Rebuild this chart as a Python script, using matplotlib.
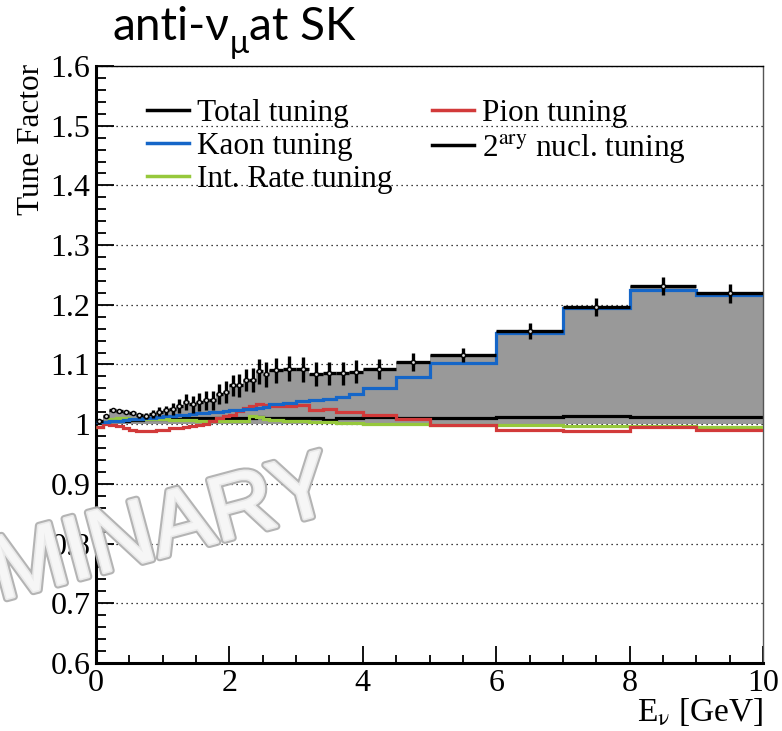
import matplotlib
matplotlib.use("Agg")
import matplotlib.pyplot as plt
import matplotlib.patheffects as pe
from matplotlib.lines import Line2D
from matplotlib.ticker import MultipleLocator
import numpy as np

plt.rcParams['font.family'] = ['Liberation Serif', 'DejaVu Serif']
plt.rcParams['mathtext.fontset'] = 'stix'

# bin edges [GeV]
edges = [0.0, 0.1, 0.2, 0.3, 0.4, 0.5, 0.6, 0.7, 0.8, 0.9, 1.0,
         1.1, 1.2, 1.3, 1.4, 1.5, 1.6, 1.7, 1.8, 1.9, 2.0,
         2.1, 2.2, 2.3, 2.4, 2.5, 2.6,
         2.8, 3.0, 3.2, 3.4, 3.6, 3.8, 4.0,
         4.5, 5.0, 6.0, 7.0, 8.0, 9.0, 10.0]

total = [1.006, 1.013, 1.023, 1.022, 1.021, 1.019, 1.015, 1.013, 1.017, 1.021,
         1.023, 1.025, 1.030, 1.037, 1.033, 1.037, 1.040, 1.040, 1.051, 1.054,
         1.065, 1.065, 1.074, 1.074, 1.089, 1.084,
         1.090, 1.093, 1.092, 1.084, 1.085, 1.085, 1.088,
         1.093, 1.104, 1.116, 1.156, 1.196, 1.231, 1.219]

total_err = [0.003, 0.003, 0.003, 0.003, 0.003, 0.003, 0.004, 0.005, 0.006, 0.007,
             0.008, 0.010, 0.012, 0.013, 0.014, 0.015, 0.016, 0.016, 0.017, 0.018,
             0.018, 0.019, 0.019, 0.020, 0.021, 0.021,
             0.021, 0.021, 0.021, 0.020, 0.020, 0.020, 0.019,
             0.017, 0.015, 0.012, 0.014, 0.015, 0.015, 0.016]

kaon = [1.003, 1.004, 1.005, 1.006, 1.007, 1.008, 1.009, 1.010, 1.011, 1.012,
        1.013, 1.014, 1.015, 1.016, 1.017, 1.018, 1.019, 1.020, 1.021, 1.022,
        1.023, 1.024, 1.025, 1.026, 1.027, 1.029,
        1.034, 1.036, 1.039, 1.040, 1.043, 1.046, 1.051,
        1.060, 1.079, 1.102, 1.153, 1.195, 1.224, 1.216]

pion = [0.995, 1.000, 0.999, 0.997, 0.994, 0.991, 0.989, 0.988, 0.989, 0.990,
        0.991, 0.993, 0.994, 0.996, 0.997, 0.999, 1.001, 1.006, 1.010, 1.013,
        1.016, 1.022, 1.027, 1.030, 1.033, 1.032,
        1.030, 1.030, 1.032, 1.023, 1.025, 1.021, 1.020,
        1.016, 1.008, 0.998, 0.990, 0.989, 0.996, 0.991]

int_rate = [0.996, 1.004, 1.008, 1.010, 1.010, 1.009, 1.009, 1.008, 1.008, 1.008,
            1.008, 1.007, 1.007, 1.007, 1.007, 1.006, 1.006, 1.006, 1.006, 1.006,
            1.006, 1.006, 1.006, 1.013, 1.012, 1.008,
            1.007, 1.006, 1.005, 1.004, 1.003, 1.002, 1.002,
            1.001, 1.000, 0.999, 0.998, 0.997, 0.997, 0.996]

secondary = [1.002, 1.004, 1.005, 1.006, 1.006, 1.007, 1.007, 1.008, 1.008, 1.008,
             1.009, 1.009, 1.009, 1.010, 1.010, 1.010, 1.010, 1.011, 1.011, 1.011,
             1.011, 1.011, 1.011, 1.011, 1.012, 1.011,
             1.011, 1.011, 1.010, 1.010, 1.007, 1.010, 1.011,
             1.012, 1.011, 1.011, 1.012, 1.013, 1.012, 1.012]

W, H = 782, 731
fig = plt.figure(figsize=(W / 100, H / 100), dpi=100)
ax = fig.add_axes([96 / W, 1 - 663 / H, (763 - 96) / W, (663 - 66) / H])

e = np.array(edges)
centers = 0.5 * (e[1:] + e[:-1])
halfw = 0.5 * (e[1:] - e[:-1])

ax.stairs(total, edges, baseline=1.0, fill=True, color='#999999', lw=0, zorder=1)
ax.stairs(secondary, edges, baseline=None, color='black', lw=2.3, zorder=2)
ax.stairs(int_rate, edges, baseline=None, color='#96c83c', lw=2.3, zorder=3)
ax.stairs(pion, edges, baseline=None, color='#d23a3a', lw=2.3, zorder=4)
ax.stairs(kaon, edges, baseline=None, color='#1566c8', lw=2.3, zorder=5)
ax.errorbar(centers, total, yerr=total_err, xerr=halfw, fmt='o', ms=3,
            mfc='#dddddd', mec='black', mew=1.0, ecolor='black', elinewidth=2.4,
            capsize=0, zorder=6)

ax.set_xlim(0, 10)
ax.set_ylim(0.6, 1.6)
ax.xaxis.set_major_locator(MultipleLocator(2))
ax.xaxis.set_minor_locator(MultipleLocator(0.5))
ax.yaxis.set_minor_locator(MultipleLocator(0.02))
ax.set_yticks([0.6, 0.7, 0.8, 0.9, 1.0, 1.1, 1.2, 1.3, 1.4, 1.5, 1.6])
ax.set_yticklabels(['0.6', '0.7', '0.8', '0.9', '1', '1.1', '1.2', '1.3', '1.4', '1.5', '1.6'])
ax.tick_params(axis='both', which='both', direction='in', top=False, right=False,
               labelsize=23, width=1.3)
ax.tick_params(axis='y', which='major', length=13, pad=4)
ax.tick_params(axis='y', which='minor', length=7)
ax.tick_params(axis='x', which='major', length=12, pad=4)
ax.tick_params(axis='x', which='minor', length=6)
ax.grid(axis='y', which='major', color='black', linestyle=(0, (1, 3)), lw=0.9)
ax.set_axisbelow(True)

ax.spines['left'].set_linewidth(2.2)
ax.spines['bottom'].set_linewidth(2.2)
ax.spines['top'].set_linewidth(1.0)
ax.spines['right'].set_linewidth(1.0)
ax.spines['right'].set_color('#555555')

handles = [Line2D([], [], color='black', lw=2.5),
           Line2D([], [], color='#1566c8', lw=2.5),
           Line2D([], [], color='#96c83c', lw=2.5),
           Line2D([], [], color='#d23a3a', lw=2.5),
           Line2D([], [], color='black', lw=2.5)]
labels = ['Total tuning', 'Kaon tuning', 'Int. Rate tuning', 'Pion tuning',
          r'2$^{\mathrm{ary}}$ nucl. tuning']
ax.legend(handles, labels, ncol=2, loc='upper left', frameon=False,
          bbox_to_anchor=(147 / W, 1 - 99 / H), bbox_transform=fig.transFigure,
          borderpad=0, borderaxespad=0, fontsize=22.5, handlelength=1.35,
          handletextpad=0.25, columnspacing=1.25, labelspacing=0.13)

fig.text(32 / W, 1 - 64 / H, 'Tune Factor', rotation=90, ha='center', va='top', fontsize=22.5)
fig.text(763 / W, 1 - 712 / H, r'E$_{\mathrm{ν}}$ [GeV]', ha='right', va='center', fontsize=24)

# title pieces
tfont = ['Lato', 'DejaVu Sans']
fig.canvas.draw()
r = fig.canvas.get_renderer()
t1 = fig.text(113 / W, 1 - 40 / H, 'anti-ν', fontsize=33, family=tfont, ha='left', va='baseline')
x1 = t1.get_window_extent(r).x1
t2 = fig.text(x1 / W, 1 - 53 / H, 'μ', fontsize=23, family=tfont, ha='left', va='baseline')
x2 = t2.get_window_extent(r).x1
fig.text(x2 / W, 1 - 40 / H, 'at SK', fontsize=33, family=tfont, ha='left', va='baseline')

# watermark
fig.text(337 / W, 1 - 510 / H, 'PRELIMINARY', fontsize=65, family=['Liberation Sans'],
         color='#f7f7f7', ha='right', va='baseline', rotation=15,
         rotation_mode='anchor', alpha=0.95, zorder=20,
         path_effects=[pe.withStroke(linewidth=5.5, foreground='#b0b0b0'),
                       pe.Stroke(linewidth=2.5, foreground='#eeeeee'), pe.Normal()])

fig.savefig('out.png', dpi=100)
